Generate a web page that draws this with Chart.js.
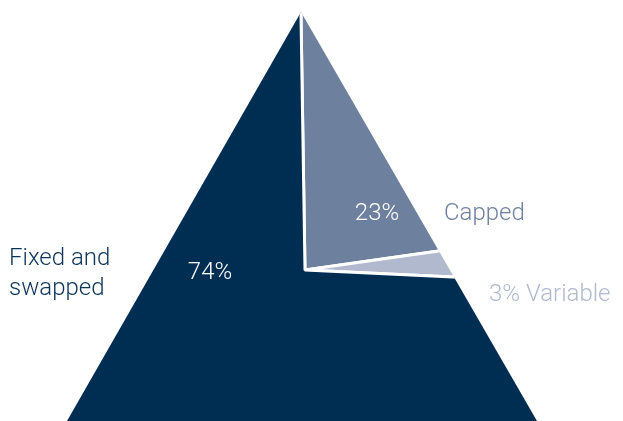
<!DOCTYPE html>
<html>
<head>
<meta charset="utf-8">
<script src="https://cdn.jsdelivr.net/npm/chart.js@4"></script>
<style>
  html, body { margin: 0; padding: 0; background: #fff; }
  #wrap { width: 623px; height: 421px; }
</style>
</head>
<body>
<div id="wrap"><canvas id="triChart" width="623" height="421"></canvas></div>
<script>
// clockwise from the top vertex
var labels = ["Capped", "Variable", "Fixed and swapped"];
var shares = [23, 3, 74];
var colors = ["#6d819f", "#b1b9ce", "#002d52"];
var textColors = ["#6d819f", "#b1b9ce", "#0b3358"];

var FONT = "300 24px Roboto, 'Open Sans', sans-serif";

// pie is drawn oversized and cut down to a triangle around its centre
function trianglePath(ctx, cx, cy) {
    ctx.beginPath();
    ctx.moveTo(cx - 4, cy - 258);
    ctx.lineTo(cx + 232, cy + 151);
    ctx.lineTo(cx - 238, cy + 151);
    ctx.closePath();
}

var triangleClip = {
    id: 'triangleClip',
    beforeDatasetsDraw: function (chart) {
        var arc = chart.getDatasetMeta(0).data[0];
        var ctx = chart.ctx;
        ctx.save();
        trianglePath(ctx, arc.x, arc.y);
        ctx.clip();
    },
    afterDatasetsDraw: function (chart) {
        chart.ctx.restore();
    }
};

// percentages inside the slices, names beside them
var sliceLabels = {
    id: 'sliceLabels',
    afterDraw: function (chart) {
        var arc = chart.getDatasetMeta(0).data[0];
        var cx = arc.x, cy = arc.y;
        var ctx = chart.ctx;
        ctx.save();
        ctx.font = FONT;
        ctx.textBaseline = 'middle';

        ctx.fillStyle = '#fff';
        ctx.textAlign = 'center';
        ctx.fillText(shares[0] + '%', cx + 72, cy - 56);
        ctx.fillText(shares[2] + '%', cx - 95, cy + 3);

        ctx.textAlign = 'left';
        ctx.fillStyle = textColors[0];
        ctx.fillText(labels[0], cx + 139, cy - 56);
        ctx.fillStyle = textColors[1];
        ctx.fillText(shares[1] + '% ' + labels[1], cx + 184, cy + 25);
        ctx.fillStyle = textColors[2];
        ctx.fillText('Fixed and', cx - 296, cy - 11);
        ctx.fillText('swapped', cx - 296, cy + 19);
        ctx.restore();
    }
};

var graphTarget = document.getElementById('triChart');

var pieGraph = new Chart(graphTarget, {
    type: 'pie',
    data: {
        labels: labels,
        datasets: [
            {
                data: shares,
                backgroundColor: colors,
                borderColor: '#ffffff',
                borderWidth: 3,
                borderAlign: 'center'
            }
        ]
    },
    options: {
        responsive: false,
        animation: false,
        rotation: -0.9,
        radius: 600,
        layout: { padding: { top: 119, bottom: 0, left: 0, right: 13 } },
        plugins: {
            legend: { display: false },
            tooltip: { enabled: false }
        }
    },
    plugins: [triangleClip, sliceLabels]
});
</script>
</body>
</html>
